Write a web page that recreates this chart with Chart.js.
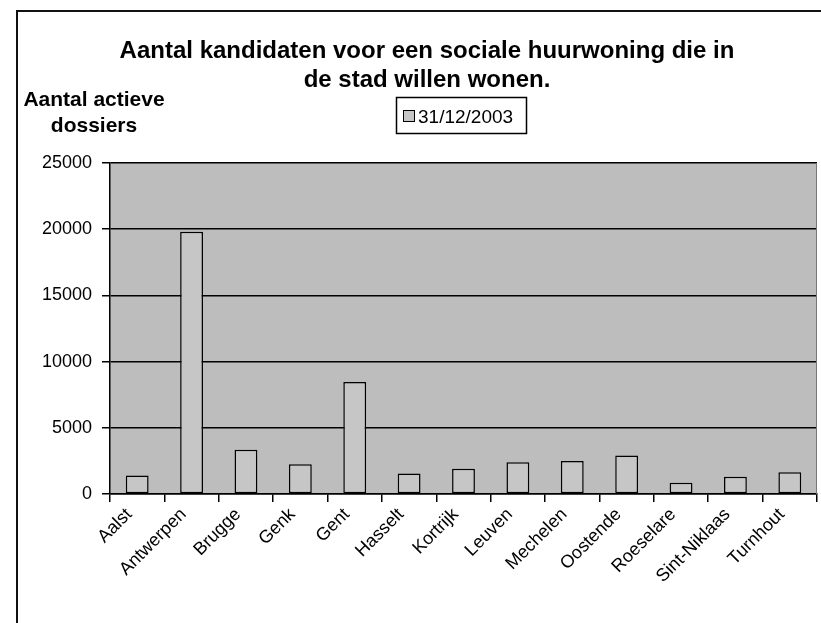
<!DOCTYPE html>
<html>
<head>
<meta charset="utf-8">
<title>Aantal kandidaten voor een sociale huurwoning</title>
<script src="https://cdn.jsdelivr.net/npm/chart.js@4.4.0/dist/chart.umd.min.js"></script>
<style>
  html, body { margin: 0; padding: 0; background: #fff; }
  #wrap { position: relative; width: 821px; height: 623px; }
</style>
</head>
<body>
<div id="wrap"><canvas id="chart" width="821" height="623"></canvas></div>
<script>
// Data
const cities = ['Aalst', 'Antwerpen', 'Brugge', 'Genk', 'Gent', 'Hasselt', 'Kortrijk',
    'Leuven', 'Mechelen', 'Oostende', 'Roeselare', 'Sint-Niklaas', 'Turnhout'];
const dossiers = [1400, 19800, 3350, 2250, 8450, 1550, 1900, 2400, 2500, 2900, 850, 1300, 1650];
const yTicks = [0, 5000, 10000, 15000, 20000, 25000];
const seriesName = '31/12/2003';
const titleLines = ['Aantal kandidaten voor een sociale huurwoning die in', 'de stad willen wonen.'];
const yTitleLines = ['Aantal actieve', 'dossiers'];

const FONT = '"Liberation Sans", Arial, sans-serif';
const plotGrey = '#bdbdbd';
const barGrey = '#c6c6c6';

// Plot background, outer frame, titles and the boxed legend
const decorations = {
    id: 'decorations',
    beforeDraw(chart) {
        const { ctx, chartArea: a } = chart;
        ctx.save();
        ctx.fillStyle = '#fff';
        ctx.fillRect(0, 0, chart.width, chart.height);
        ctx.fillStyle = plotGrey;
        ctx.fillRect(a.left, a.top, a.right - a.left, a.bottom - a.top);
        ctx.restore();
    },
    afterDraw(chart) {
        const { ctx, chartArea: a } = chart;
        ctx.save();

        // outer chart frame (left and top edge visible in the scan)
        ctx.strokeStyle = '#111';
        ctx.lineWidth = 2;
        ctx.beginPath();
        ctx.moveTo(17, chart.height);
        ctx.lineTo(17, 11);
        ctx.lineTo(chart.width, 11);
        ctx.stroke();

        // right edge of plot area
        ctx.strokeStyle = '#777';
        ctx.lineWidth = 1;
        ctx.beginPath();
        ctx.moveTo(a.right - 0.5, a.top);
        ctx.lineTo(a.right - 0.5, a.bottom);
        ctx.stroke();

        ctx.fillStyle = '#000';
        ctx.textAlign = 'center';
        ctx.textBaseline = 'alphabetic';

        // chart title
        ctx.font = 'bold 24px ' + FONT;
        ctx.fillText(titleLines[0], 427, 58);
        ctx.fillText(titleLines[1], 427, 87);

        // value axis title
        ctx.font = 'bold 21px ' + FONT;
        ctx.fillText(yTitleLines[0], 94, 106);
        ctx.fillText(yTitleLines[1], 94, 132);

        // legend
        ctx.lineWidth = 1.5;
        ctx.strokeStyle = '#000';
        ctx.strokeRect(396.5, 97.5, 130, 36);
        ctx.fillStyle = barGrey;
        ctx.fillRect(403, 110, 11, 11);
        ctx.lineWidth = 1;
        ctx.strokeRect(403.5, 110.5, 11, 11);
        ctx.fillStyle = '#000';
        ctx.textAlign = 'left';
        ctx.font = '19px ' + FONT;
        ctx.fillText(seriesName, 418, 123);

        ctx.restore();
    }
};

new Chart(document.getElementById('chart'), {
    type: 'bar',
    data: {
        labels: cities,
        datasets: [{
            label: seriesName,
            data: dossiers,
            backgroundColor: barGrey,
            borderColor: '#000',
            borderWidth: 1.5,
            borderSkipped: false,
            barPercentage: 0.42,
            categoryPercentage: 1.0
        }]
    },
    options: {
        responsive: false,
        animation: false,
        devicePixelRatio: 1,
        layout: { padding: { top: 163, right: 4, left: 0, bottom: 0 } },
        plugins: {
            legend: { display: false },
            title: { display: false },
            tooltip: { enabled: false }
        },
        scales: {
            x: {
                afterFit: function (scale) { scale.height = 129; },
                grid: {
                    display: true,
                    offset: true,
                    drawOnChartArea: false,
                    drawTicks: true,
                    tickLength: 8,
                    tickColor: '#000',
                    lineWidth: 1.5
                },
                border: { display: true, color: '#000', width: 1.5 },
                ticks: {
                    color: '#000',
                    font: { family: FONT, size: 18 },
                    minRotation: 45,
                    maxRotation: 45,
                    autoSkip: false,
                    labelOffset: -8,
                    padding: 2
                }
            },
            y: {
                min: 0,
                max: 25000,
                afterFit: function (scale) { scale.width = 110; },
                afterBuildTicks: function (scale) {
                    scale.ticks = yTicks.map(function (v) { return { value: v }; });
                },
                grid: {
                    color: '#000',
                    lineWidth: 1.5,
                    tickLength: 8,
                    tickColor: '#000'
                },
                border: { display: true, color: '#000', width: 1.5 },
                ticks: {
                    color: '#000',
                    font: { family: FONT, size: 18 },
                    padding: 10,
                    callback: function (value) { return String(value); }
                }
            }
        }
    },
    plugins: [decorations]
});
</script>
</body>
</html>
